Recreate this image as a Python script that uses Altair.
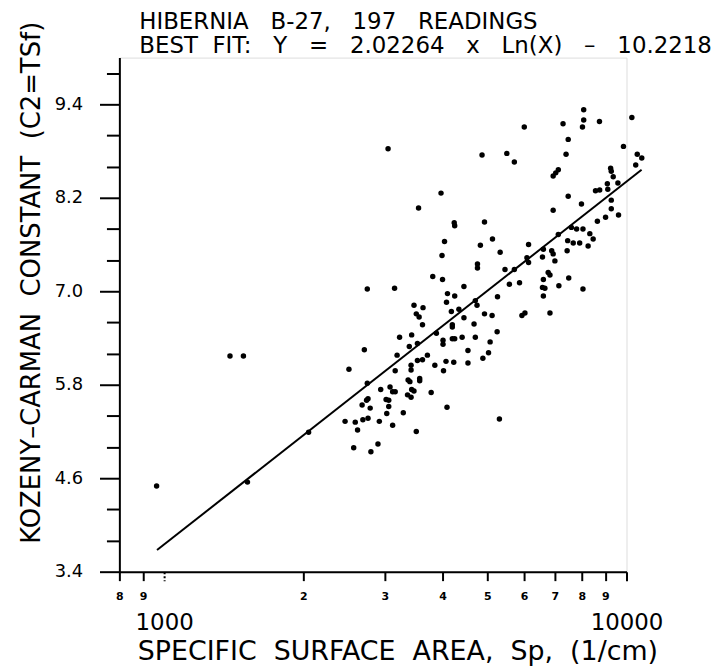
import math
import altair as alt
import pandas as pd

# Specific surface area Sp (1/cm) and Kozeny-Carman constant
sp = [
    963, 1388, 1484, 1514, 2053, 2462,
    3620, 4680, 4200, 4200, 3880, 3230, 3430, 3530, 3390, 4010, 4010, 4200, 4250, 4410,
    4710, 5250, 5070, 2710, 3190, 4540, 5030, 4890, 3530, 3620, 3710, 3420, 3420, 3850,
    4070, 4230, 4540, 4020, 3160, 2510, 3370, 3400, 3570, 3570, 2750, 2940, 3080, 3120,
    3160, 3430, 3470, 3360, 3420, 3780, 2760, 2740, 3020, 3060, 2680, 2790, 3060, 3030,
    3290, 4090, 2690, 2760, 2590, 2620, 2920, 3120, 3510, 5310, 2900, 2570, 2800,
    8080, 10270, 7290, 8080, 8740, 8030, 6010, 7480, 3050, 4870, 5510, 5720, 7400, 9850,
    10550, 10790, 10470, 6940, 7120, 7030, 9240, 9270, 9360, 9090, 9110, 9580,
    8570, 8750, 3970, 3550, 7480, 7990, 6940, 9270, 9270, 8650, 9010, 9610, 4240, 4250,
    4930, 4040, 4830, 5130, 3990, 5330, 6140, 7600, 7800, 8050, 8330, 8470,
    7120, 7460, 7670, 7920, 8260, 7440, 6610, 6890, 6940, 7000, 6580, 6090, 6140, 6770,
    6830, 5460, 5720, 4760, 4760, 3810, 4000, 4450, 5580, 5870, 6610, 6580,
    6660, 6610, 7140, 7500, 8050, 2750, 3150, 4100, 4250, 4080, 4710, 4750, 5260, 3470,
    3630, 3510, 3560, 4180, 4340, 4450, 4930, 5120, 5940, 6030, 6830,
]
kc = [
    4.50, 6.17, 6.17, 4.55, 5.19, 5.33,
    6.57, 6.58, 6.57, 6.54, 6.46, 6.41, 6.44, 6.33, 6.29, 6.37, 6.32, 6.39, 6.39, 6.41,
    6.41, 6.48, 6.35, 6.25, 6.18, 6.24, 6.21, 6.14, 6.11, 6.12, 6.18, 6.05, 5.99, 6.05,
    6.10, 6.09, 6.08, 5.98, 5.98, 6.00, 5.86, 5.84, 5.88, 5.85, 5.82, 5.74, 5.77, 5.71,
    5.71, 5.74, 5.72, 5.67, 5.64, 5.70, 5.62, 5.60, 5.61, 5.60, 5.54, 5.50, 5.52, 5.43,
    5.44, 5.51, 5.35, 5.37, 5.32, 5.22, 5.33, 5.28, 5.20, 5.36, 5.04, 4.99, 4.94,
    9.33, 9.23, 9.15, 9.20, 9.18, 9.11, 9.11, 8.95, 8.83, 8.75, 8.77, 8.66, 8.76, 8.86,
    8.76, 8.71, 8.62, 8.48, 8.56, 8.52, 8.58, 8.54, 8.47, 8.38, 8.31, 8.39,
    8.29, 8.30, 8.26, 8.07, 8.22, 8.12, 8.04, 8.17, 8.06, 7.90, 7.95, 7.98, 7.88, 7.84,
    7.89, 7.64, 7.59, 7.67, 7.46, 7.50, 7.60, 7.82, 7.80, 7.80, 7.74, 7.67,
    7.73, 7.65, 7.62, 7.62, 7.58, 7.52, 7.54, 7.52, 7.48, 7.39, 7.44, 7.43, 7.37, 7.24,
    7.21, 7.28, 7.28, 7.35, 7.30, 7.19, 7.15, 7.06, 7.09, 7.11, 7.15, 7.05,
    7.04, 6.94, 7.07, 7.17, 7.03, 7.03, 7.04, 6.97, 6.94, 6.86, 6.88, 6.82, 6.93, 6.82,
    6.79, 6.71, 6.67, 6.74, 6.77, 6.66, 6.71, 6.69, 6.69, 6.72, 6.72,
]

# Best-fit line stated on the chart: Y = 2.02264 x Ln(X) - 10.2218
FIT_SLOPE = 2.02264
FIT_INTERCEPT = -10.2218
fit_x = [965, 10780]
fit_y = [FIT_SLOPE * math.log(v) + FIT_INTERCEPT for v in fit_x]

x_ticks = [800, 900, 1000, 2000, 3000, 4000, 5000, 6000, 7000, 8000, 9000, 10000]
y_ticks = [3.4, 3.8, 4.2, 4.6, 5.0, 5.4, 5.8, 6.2, 6.6, 7.0, 7.4, 7.8, 8.2, 8.6, 9.0, 9.4, 9.8]
y_major = ["3.4", "4.6", "5.8", "7.0", "8.2", "9.4"]

G2 = "\u00a0 "
G3 = "\u00a0\u00a0 "
title_lines = [
    "HIBERNIA" + G3 + "B-27," + G3 + "197" + G3 + "READINGS",
    "BEST" + G2 + "FIT:" + G3 + "Y" + G3 + "=" + G3 + "2.02264" + G3 + "x" + G3
    + "Ln(X)" + G3 + "\u2013" + G3 + "10.2218",
]
x_title = "SPECIFIC\u00a0 SURFACE\u00a0 AREA,\u00a0 Sp,\u00a0 (1/cm)"
y_title = "KOZENY\u2013CARMAN\u00a0 CONSTANT\u00a0 (C2=TSf)"

FONT = "DejaVu Sans"

pts = pd.DataFrame({"sp": sp, "kc": kc})
fit = pd.DataFrame({"sp": fit_x, "kc": fit_y})

xscale = alt.Scale(type="log", domain=[800, 10000], nice=False)
yscale = alt.Scale(domain=[3.4, 10.0], nice=False, zero=False)

big_test = "datum.value == 1000 || datum.value == 10000"
major_test = "indexof(" + str(y_major) + ", format(datum.value, '.1f')) >= 0"

x_axis = alt.Axis(
    values=x_ticks,
    tickCount=40,
    labelExpr="datum.value == 1000 ? ['', '1000'] : datum.value == 10000 ? ['', '10000'] : substring(toString(datum.value), 0, 1)",
    labelFontSize={"condition": {"test": big_test, "value": 23}, "value": 11},
    labelFontWeight={"condition": {"test": big_test, "value": "normal"}, "value": "bold"},
    labelLineHeight=21,
    labelPadding=10,
    labelOverlap=False,
    labelFlush=False,
    labelFont=FONT,
    labelColor="black",
    tickSize=9,
    tickWidth=2,
    tickColor="black",
    tickDash={"condition": {"test": "datum.value == 1000", "value": [2, 2]}, "value": []},
    domainColor="black",
    domainWidth=2,
    grid=False,
    title=x_title,
    titleFont=FONT,
    titleFontSize=27,
    titleFontWeight="normal",
    titleColor="black",
    titleX=18,
    titleY=88,
    titleAlign="left",
    titleAnchor="start",
    titleBaseline="alphabetic",
)

y_axis = alt.Axis(
    values=y_ticks,
    tickCount=40,
    labelExpr=major_test + " ? format(datum.value, '.1f') : ''",
    labelFontSize=18,
    labelFont=FONT,
    labelColor="black",
    labelPadding=17,
    labelFlush=False,
    labelOverlap=False,
    tickSize={"condition": {"test": major_test, "value": 20}, "value": 13},
    tickWidth=2,
    tickColor="black",
    domainColor="black",
    domainWidth=2,
    grid=False,
    title=y_title,
    titleFont=FONT,
    titleFontSize=26,
    titleFontWeight="normal",
    titleColor="black",
    titleAngle=270,
    titleX=-80,
    titleY=226,
    titleAlign="center",
    titleBaseline="alphabetic",
)

points = alt.Chart(pts).mark_circle(size=30, color="black", opacity=1).encode(
    x=alt.X("sp:Q", scale=xscale, axis=x_axis),
    y=alt.Y("kc:Q", scale=yscale, axis=y_axis),
)

line = alt.Chart(fit).mark_line(color="black", strokeWidth=2).encode(
    x=alt.X("sp:Q", scale=xscale),
    y=alt.Y("kc:Q", scale=yscale),
)

chart = (
    alt.layer(points, line)
    .properties(
        width=510,
        height=517,
        padding={"left": 112, "top": 48, "right": 90, "bottom": 97},
        autosize=alt.AutoSizeParams(type="none"),
        title=alt.TitleParams(
            text=title_lines,
            anchor="start",
            frame="group",
            dx=20,
            offset=-60,
            fontSize=23,
            font=FONT,
            fontWeight="normal",
            color="black",
            lineHeight=24,
            baseline="bottom",
        ),
    )
    .configure_view(stroke=None)
    .configure(background="white")
)

chart.save("out.html", embed_options={"renderer": "svg", "actions": False})
